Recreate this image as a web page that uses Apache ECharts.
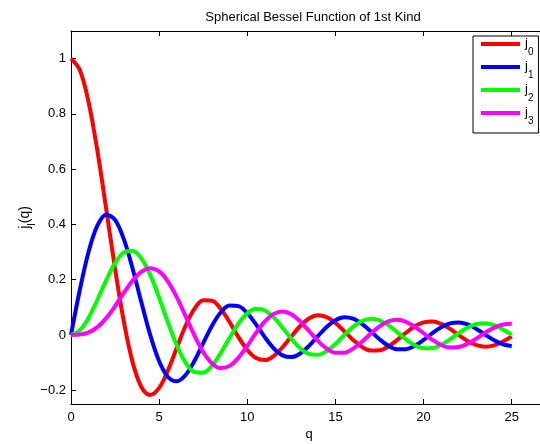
<!DOCTYPE html>
<html>
<head>
<meta charset="utf-8">
<script src="https://cdn.jsdelivr.net/npm/echarts@6/dist/echarts.min.js"></script>
<style>
  html, body { margin: 0; padding: 0; background: #fff; }
  #chart { width: 540px; height: 444px; }
</style>
</head>
<body>
<div id="chart"></div>
<script>
// q sample points and j_l(q)
var q = [0, 0.5, 1, 1.5, 2, 2.5, 3, 3.5, 4, 4.5, 5, 5.5, 6, 6.5, 7, 7.5, 8, 8.5, 9, 9.5,
  10, 10.5, 11, 11.5, 12, 12.5, 13, 13.5, 14, 14.5, 15, 15.5, 16, 16.5, 17, 17.5, 18, 18.5, 19, 19.5,
  20, 20.5, 21, 21.5, 22, 22.5, 23, 23.5, 24, 24.5, 25]

var j0 = [1, 0.9589, 0.8415, 0.6650, 0.4546, 0.2394, 0.0470, -0.1002, -0.1892, -0.2172, -0.1918, -0.1283, -0.0466, 0.0331, 0.0939, 0.1251, 0.1237, 0.0939, 0.0458, -0.0079,
  -0.0544, -0.0838, -0.0909, -0.0761, -0.0447, -0.0053, 0.0323, 0.0595, 0.0708, 0.0645, 0.0434, 0.0133, -0.0180, -0.0432, -0.0566, -0.0558, -0.0417, -0.0185, 0.0079, 0.0311,
  0.0456, 0.0486, 0.0398, 0.0219, -0.0004, -0.0217, -0.0368, -0.0425, -0.0377, -0.0241, -0.0053]

var j1 = [0, 0.1625, 0.3012, 0.3962, 0.4354, 0.4162, 0.3457, 0.2389, 0.1161, -0.0014, -0.0951, -0.1522, -0.1678, -0.1452, -0.0943, -0.0295, 0.0336, 0.0819, 0.1063, 0.1041,
  0.0785, 0.0373, -0.0087, -0.0486, -0.0740, -0.0802, -0.0673, -0.0397, -0.0047, 0.0289, 0.0535, 0.0640, 0.0587, 0.0399, 0.0129, -0.0157, -0.0390, -0.0518, -0.0516, -0.0392,
  -0.0181, 0.0063, 0.0280, 0.0420, 0.0454, 0.0379, 0.0216, 0.0008, -0.0192, -0.0339, -0.0399]

var j2 = [0, 0.0164, 0.0620, 0.1274, 0.1984, 0.2601, 0.2986, 0.3050, 0.2763, 0.2163, 0.1347, 0.0453, -0.0373, -0.1001, -0.1343, -0.1369, -0.1111, -0.0650, -0.0103, 0.0408,
  0.0779, 0.0944, 0.0885, 0.0634, 0.0262, -0.0140, -0.0479, -0.0684, -0.0718, -0.0585, -0.0326, -0.0009, 0.0290, 0.0504, 0.0588, 0.0531, 0.0352, 0.0101, -0.0160, -0.0371,
  -0.0484, -0.0477, -0.0358, -0.0161, 0.0066, 0.0267, 0.0396, 0.0426, 0.0353, 0.0200, 0.0005]

var j3 = [0, 0.0012, 0.0090, 0.0283, 0.0607, 0.1039, 0.1521, 0.1968, 0.2292, 0.2417, 0.2298, 0.1933, 0.1367, 0.0682, -0.0016, -0.0617, -0.1031, -0.1201, -0.1121, -0.0827,
  -0.0395, 0.0077, 0.0489, 0.0762, 0.0850, 0.0747, 0.0489, 0.0143, -0.0209, -0.0491, -0.0644, -0.0643, -0.0497, -0.0247, 0.0044, 0.0309, 0.0488, 0.0545, 0.0474, 0.0297,
  0.0060, -0.0179, -0.0365, -0.0458, -0.0439, -0.0319, -0.0130, 0.0082, 0.0266, 0.0380, 0.0400]

var xTicks = [0, 5, 10, 15, 20, 25]
var yTicks = [-0.2, 0, 0.2, 0.4, 0.6, 0.8, 1]

var names = ['j0', 'j1', 'j2', 'j3']
var colors = ['#ff0000', '#0000ff', '#00ff00', '#ff00ff']
var values = [j0, j1, j2, j3]

var font = 'Liberation Sans, Arial, Helvetica, sans-serif'

var chart = echarts.init(document.getElementById('chart'), null, { renderer: 'canvas' })

function pairs(ys) {
  return q.map(function (x, i) { return [x, ys[i]] })
}

var axisCommon = {
  axisLine: { show: true, onZero: false, lineStyle: { color: '#000', width: 1 } },
  splitLine: { show: false }
}

// the axes box runs past the right edge of the page (x up to 27)
chart.setOption({
  animation: false,
  backgroundColor: '#fff',
  textStyle: { fontFamily: font },
  title: {
    text: 'Spherical Bessel Function of 1st Kind',
    left: 308,
    textAlign: 'center',
    top: 6,
    textStyle: { fontSize: 13, fontWeight: 'normal', color: '#000', fontFamily: font }
  },
  grid: { left: 71, top: 31, width: 476, height: 373, outerBoundsMode: 'none' },
  legend: {
    data: names,
    orient: 'vertical',
    left: 473,
    top: 36,
    padding: [1, 5, 1, 8],
    itemGap: -3,
    itemWidth: 39,
    itemHeight: 4,
    icon: 'rect',
    backgroundColor: '#fff',
    borderColor: '#000',
    borderWidth: 1,
    borderRadius: 0,
    formatter: function (name) {
      return '{a|j}{b|' + name.slice(1) + '}'
    },
    textStyle: {
      color: '#000',
      fontFamily: font,
      rich: {
        a: { fontSize: 13, lineHeight: 14, verticalAlign: 'top', color: '#000', fontFamily: font },
        b: { fontSize: 10, lineHeight: 10, padding: [10, 0, 6, 0], verticalAlign: 'top', color: '#000', fontFamily: font }
      }
    }
  },
  xAxis: [
    Object.assign({
      type: 'value',
      min: 0,
      max: 27,
      name: 'q',
      nameLocation: 'middle',
      nameGap: 24,
      nameMoveOverlap: false,
      nameTextStyle: { fontSize: 13, color: '#000', fontFamily: font },
      axisTick: { show: true, inside: true, length: 5, customValues: xTicks, lineStyle: { color: '#000' } },
      axisLabel: { customValues: xTicks, fontSize: 13, color: '#000', margin: 7, fontFamily: font }
    }, axisCommon),
    Object.assign({
      type: 'value',
      position: 'top',
      min: 0,
      max: 27,
      axisTick: { show: true, inside: true, length: 5, customValues: xTicks, lineStyle: { color: '#000' } },
      axisLabel: { show: false }
    }, axisCommon)
  ],
  yAxis: Object.assign({
    type: 'value',
    min: -0.25,
    max: 1.1,
    name: '{a|j}{b|l}{a|(q)}',
    nameLocation: 'middle',
    nameGap: 38,
    nameMoveOverlap: false,
    nameTextStyle: {
      color: '#000',
      fontFamily: font,
      rich: {
        a: { fontSize: 14, lineHeight: 15, verticalAlign: 'top', color: '#000', fontFamily: font },
        b: { fontSize: 11, lineHeight: 11, padding: [8, 0, 0, 0], verticalAlign: 'top', color: '#000', fontFamily: font }
      }
    },
    axisTick: { show: true, inside: true, length: 5, customValues: yTicks, lineStyle: { color: '#000' } },
    axisLabel: {
      customValues: yTicks,
      fontSize: 13,
      color: '#000',
      margin: 5,
      fontFamily: font,
      formatter: function (v) {
        return String(Math.round(v * 10) / 10).replace('-', '\u2212')
      }
    }
  }, axisCommon),
  series: names.map(function (n, i) {
    return {
      name: n,
      type: 'line',
      xAxisIndex: 0,
      data: pairs(values[i]),
      smooth: 0.35,
      showSymbol: false,
      symbol: 'none',
      color: colors[i],
      lineStyle: { color: colors[i], width: 4 }
    }
  })
})
</script>
</body>
</html>
